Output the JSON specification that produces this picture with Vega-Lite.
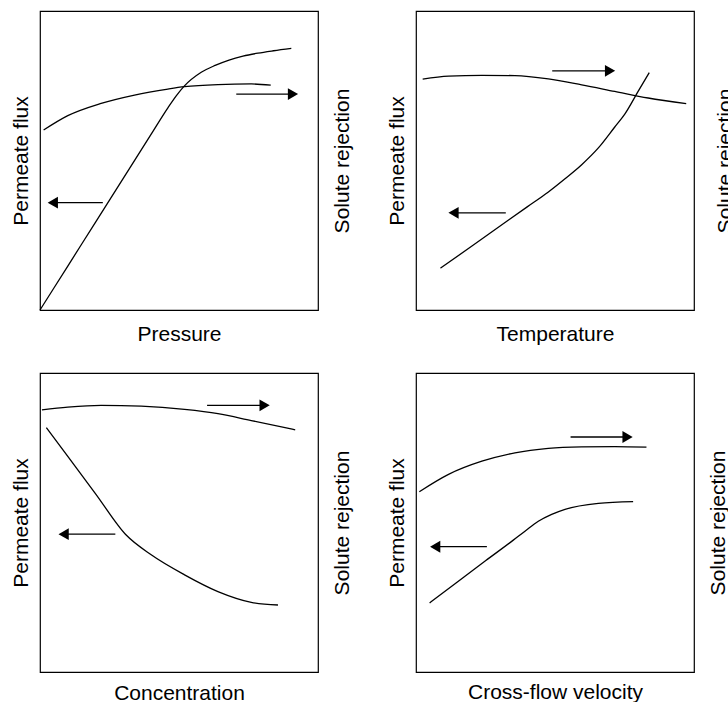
{
  "$schema": "https://vega.github.io/schema/vega-lite/v6.json",
  "padding": {"left": 9, "top": 10, "right": 0, "bottom": 0},
  "bounds": "flush",
  "columns": 2,
  "spacing": {"row": 63, "column": 98},
  "config": {
    "view": {"stroke": "black", "strokeWidth": 1.2},
    "font": "Liberation Sans",
    "axis": {"domain": false, "ticks": false, "labels": false, "grid": false, "titleFont": "Liberation Sans", "titleFontSize": 21, "titleFontWeight": "normal", "titleColor": "black"},
    "line": {"color": "black", "strokeWidth": 1.3}
  },
  "data": {"values": [
    {"panel": "P", "s": "flux", "x": 0, "y": 0},
    {"panel": "P", "s": "flux", "x": 0.1, "y": 0.147},
    {"panel": "P", "s": "flux", "x": 0.2, "y": 0.294},
    {"panel": "P", "s": "flux", "x": 0.3, "y": 0.441},
    {"panel": "P", "s": "flux", "x": 0.4, "y": 0.588},
    {"panel": "P", "s": "flux", "x": 0.46, "y": 0.676},
    {"panel": "P", "s": "flux", "x": 0.49, "y": 0.716},
    {"panel": "P", "s": "flux", "x": 0.517, "y": 0.747},
    {"panel": "P", "s": "flux", "x": 0.58, "y": 0.795},
    {"panel": "P", "s": "flux", "x": 0.63, "y": 0.818},
    {"panel": "P", "s": "flux", "x": 0.68, "y": 0.836},
    {"panel": "P", "s": "flux", "x": 0.73, "y": 0.849},
    {"panel": "P", "s": "flux", "x": 0.784, "y": 0.859},
    {"panel": "P", "s": "flux", "x": 0.84, "y": 0.867},
    {"panel": "P", "s": "flux", "x": 0.904, "y": 0.875},
    {"panel": "P", "s": "rej", "x": 0.013, "y": 0.602},
    {"panel": "P", "s": "rej", "x": 0.1, "y": 0.65},
    {"panel": "P", "s": "rej", "x": 0.22, "y": 0.691},
    {"panel": "P", "s": "rej", "x": 0.34, "y": 0.719},
    {"panel": "P", "s": "rej", "x": 0.46, "y": 0.739},
    {"panel": "P", "s": "rej", "x": 0.52, "y": 0.747},
    {"panel": "P", "s": "rej", "x": 0.64, "y": 0.754},
    {"panel": "P", "s": "rej", "x": 0.76, "y": 0.756},
    {"panel": "P", "s": "rej", "x": 0.83, "y": 0.752},
    {"panel": "P", "s": "a1", "x": 0.226, "y": 0.359},
    {"panel": "P", "s": "a1", "x": 0.046, "y": 0.359, "dir": "left"},
    {"panel": "P", "s": "a2", "x": 0.706, "y": 0.722},
    {"panel": "P", "s": "a2", "x": 0.91, "y": 0.722, "dir": "right"},

    {"panel": "T", "s": "flux", "x": 0.088, "y": 0.14},
    {"panel": "T", "s": "flux", "x": 0.2, "y": 0.213},
    {"panel": "T", "s": "flux", "x": 0.3, "y": 0.279},
    {"panel": "T", "s": "flux", "x": 0.4, "y": 0.345},
    {"panel": "T", "s": "flux", "x": 0.475, "y": 0.394},
    {"panel": "T", "s": "flux", "x": 0.536, "y": 0.439},
    {"panel": "T", "s": "flux", "x": 0.596, "y": 0.486},
    {"panel": "T", "s": "flux", "x": 0.656, "y": 0.542},
    {"panel": "T", "s": "flux", "x": 0.715, "y": 0.612},
    {"panel": "T", "s": "flux", "x": 0.751, "y": 0.655},
    {"panel": "T", "s": "flux", "x": 0.799, "y": 0.731},
    {"panel": "T", "s": "flux", "x": 0.839, "y": 0.794},
    {"panel": "T", "s": "rej", "x": 0.024, "y": 0.772},
    {"panel": "T", "s": "rej", "x": 0.117, "y": 0.782},
    {"panel": "T", "s": "rej", "x": 0.237, "y": 0.785},
    {"panel": "T", "s": "rej", "x": 0.356, "y": 0.784},
    {"panel": "T", "s": "rej", "x": 0.476, "y": 0.773},
    {"panel": "T", "s": "rej", "x": 0.596, "y": 0.753},
    {"panel": "T", "s": "rej", "x": 0.715, "y": 0.731},
    {"panel": "T", "s": "rej", "x": 0.835, "y": 0.709},
    {"panel": "T", "s": "rej", "x": 0.972, "y": 0.69},
    {"panel": "T", "s": "a1", "x": 0.323, "y": 0.325},
    {"panel": "T", "s": "a1", "x": 0.135, "y": 0.325, "dir": "left"},
    {"panel": "T", "s": "a2", "x": 0.49, "y": 0.8},
    {"panel": "T", "s": "a2", "x": 0.698, "y": 0.8, "dir": "right"},

    {"panel": "C", "s": "flux", "x": 0.023, "y": 0.817},
    {"panel": "C", "s": "flux", "x": 0.1, "y": 0.721},
    {"panel": "C", "s": "flux", "x": 0.2, "y": 0.596},
    {"panel": "C", "s": "flux", "x": 0.31, "y": 0.458},
    {"panel": "C", "s": "flux", "x": 0.4, "y": 0.392},
    {"panel": "C", "s": "flux", "x": 0.52, "y": 0.325},
    {"panel": "C", "s": "flux", "x": 0.64, "y": 0.269},
    {"panel": "C", "s": "flux", "x": 0.76, "y": 0.233},
    {"panel": "C", "s": "flux", "x": 0.856, "y": 0.224},
    {"panel": "C", "s": "rej", "x": 0.007, "y": 0.877},
    {"panel": "C", "s": "rej", "x": 0.1, "y": 0.886},
    {"panel": "C", "s": "rej", "x": 0.22, "y": 0.892},
    {"panel": "C", "s": "rej", "x": 0.364, "y": 0.889},
    {"panel": "C", "s": "rej", "x": 0.52, "y": 0.878},
    {"panel": "C", "s": "rej", "x": 0.64, "y": 0.864},
    {"panel": "C", "s": "rej", "x": 0.76, "y": 0.841},
    {"panel": "C", "s": "rej", "x": 0.918, "y": 0.81},
    {"panel": "C", "s": "a1", "x": 0.271, "y": 0.461},
    {"panel": "C", "s": "a1", "x": 0.085, "y": 0.461, "dir": "left"},
    {"panel": "C", "s": "a2", "x": 0.601, "y": 0.892},
    {"panel": "C", "s": "a2", "x": 0.808, "y": 0.892, "dir": "right"},

    {"panel": "V", "s": "flux", "x": 0.049, "y": 0.231},
    {"panel": "V", "s": "flux", "x": 0.15, "y": 0.302},
    {"panel": "V", "s": "flux", "x": 0.25, "y": 0.372},
    {"panel": "V", "s": "flux", "x": 0.35, "y": 0.441},
    {"panel": "V", "s": "flux", "x": 0.392, "y": 0.471},
    {"panel": "V", "s": "flux", "x": 0.44, "y": 0.504},
    {"panel": "V", "s": "flux", "x": 0.488, "y": 0.527},
    {"panel": "V", "s": "flux", "x": 0.536, "y": 0.544},
    {"panel": "V", "s": "flux", "x": 0.656, "y": 0.564},
    {"panel": "V", "s": "flux", "x": 0.781, "y": 0.57},
    {"panel": "V", "s": "rej", "x": 0.012, "y": 0.603},
    {"panel": "V", "s": "rej", "x": 0.117, "y": 0.661},
    {"panel": "V", "s": "rej", "x": 0.237, "y": 0.705},
    {"panel": "V", "s": "rej", "x": 0.356, "y": 0.733},
    {"panel": "V", "s": "rej", "x": 0.476, "y": 0.748},
    {"panel": "V", "s": "rej", "x": 0.596, "y": 0.753},
    {"panel": "V", "s": "rej", "x": 0.715, "y": 0.754},
    {"panel": "V", "s": "rej", "x": 0.829, "y": 0.752},
    {"panel": "V", "s": "a1", "x": 0.255, "y": 0.419},
    {"panel": "V", "s": "a1", "x": 0.069, "y": 0.419, "dir": "left"},
    {"panel": "V", "s": "a2", "x": 0.556, "y": 0.786},
    {"panel": "V", "s": "a2", "x": 0.761, "y": 0.786, "dir": "right"}
  ]},
  "concat": [
    {
      "width": 278, "height": 299,
      "transform": [{"filter": {"field": "panel", "equal": "P"}}],
      "encoding": {"x": {"field": "x", "type": "quantitative", "scale": {"domain": [0, 1]}, "axis": {"title": "Pressure", "titlePadding": 13}}},
      "layer": [
        {"transform": [{"filter": {"field": "s", "equal": "flux"}}], "mark": {"type": "line", "interpolate": "monotone"},
         "encoding": {"y": {"field": "y", "type": "quantitative", "scale": {"domain": [0, 1]}, "axis": {"title": "Permeate flux", "titlePadding": 9}}}},
        {"transform": [{"filter": {"field": "s", "equal": "rej"}}], "mark": {"type": "line", "interpolate": "monotone"},
         "encoding": {"y": {"field": "y", "type": "quantitative", "scale": {"domain": [0, 1]}, "axis": {"orient": "right", "title": "Solute rejection", "titleAngle": -90, "titleBaseline": "top", "titlePadding": 13}}}},
        {"transform": [{"filter": {"field": "s", "oneOf": ["a1", "a2"]}}], "mark": "line",
         "encoding": {"y": {"field": "y", "type": "quantitative", "scale": {"domain": [0, 1]}, "axis": null}, "detail": {"field": "s"}}},
        {"transform": [{"filter": "isValid(datum.dir)"}], "mark": {"type": "point", "filled": true, "size": 140, "opacity": 1, "color": "black"},
         "encoding": {"y": {"field": "y", "type": "quantitative", "scale": {"domain": [0, 1]}, "axis": null},
                      "shape": {"field": "dir", "type": "nominal", "scale": {"domain": ["left", "right"], "range": ["triangle-left", "triangle-right"]}, "legend": null}}}
      ],
      "resolve": {"scale": {"y": "independent"}}
    },
    {
      "width": 278, "height": 299,
      "transform": [{"filter": {"field": "panel", "equal": "T"}}],
      "encoding": {"x": {"field": "x", "type": "quantitative", "scale": {"domain": [0, 1]}, "axis": {"title": "Temperature", "titlePadding": 13}}},
      "layer": [
        {"transform": [{"filter": {"field": "s", "equal": "flux"}}], "mark": {"type": "line", "interpolate": "monotone"},
         "encoding": {"y": {"field": "y", "type": "quantitative", "scale": {"domain": [0, 1]}, "axis": {"title": "Permeate flux", "titlePadding": 9}}}},
        {"transform": [{"filter": {"field": "s", "equal": "rej"}}], "mark": {"type": "line", "interpolate": "monotone"},
         "encoding": {"y": {"field": "y", "type": "quantitative", "scale": {"domain": [0, 1]}, "axis": {"orient": "right", "title": "Solute rejection", "titleAngle": -90, "titleBaseline": "top", "titlePadding": 20}}}},
        {"transform": [{"filter": {"field": "s", "oneOf": ["a1", "a2"]}}], "mark": "line",
         "encoding": {"y": {"field": "y", "type": "quantitative", "scale": {"domain": [0, 1]}, "axis": null}, "detail": {"field": "s"}}},
        {"transform": [{"filter": "isValid(datum.dir)"}], "mark": {"type": "point", "filled": true, "size": 140, "opacity": 1, "color": "black"},
         "encoding": {"y": {"field": "y", "type": "quantitative", "scale": {"domain": [0, 1]}, "axis": null},
                      "shape": {"field": "dir", "type": "nominal", "scale": {"domain": ["left", "right"], "range": ["triangle-left", "triangle-right"]}, "legend": null}}}
      ],
      "resolve": {"scale": {"y": "independent"}}
    },
    {
      "width": 278, "height": 299,
      "transform": [{"filter": {"field": "panel", "equal": "C"}}],
      "encoding": {"x": {"field": "x", "type": "quantitative", "scale": {"domain": [0, 1]}, "axis": {"title": "Concentration", "titlePadding": 10}}},
      "layer": [
        {"transform": [{"filter": {"field": "s", "equal": "flux"}}], "mark": {"type": "line", "interpolate": "monotone"},
         "encoding": {"y": {"field": "y", "type": "quantitative", "scale": {"domain": [0, 1]}, "axis": {"title": "Permeate flux", "titlePadding": 9}}}},
        {"transform": [{"filter": {"field": "s", "equal": "rej"}}], "mark": {"type": "line", "interpolate": "monotone"},
         "encoding": {"y": {"field": "y", "type": "quantitative", "scale": {"domain": [0, 1]}, "axis": {"orient": "right", "title": "Solute rejection", "titleAngle": -90, "titleBaseline": "top", "titlePadding": 13}}}},
        {"transform": [{"filter": {"field": "s", "oneOf": ["a1", "a2"]}}], "mark": "line",
         "encoding": {"y": {"field": "y", "type": "quantitative", "scale": {"domain": [0, 1]}, "axis": null}, "detail": {"field": "s"}}},
        {"transform": [{"filter": "isValid(datum.dir)"}], "mark": {"type": "point", "filled": true, "size": 140, "opacity": 1, "color": "black"},
         "encoding": {"y": {"field": "y", "type": "quantitative", "scale": {"domain": [0, 1]}, "axis": null},
                      "shape": {"field": "dir", "type": "nominal", "scale": {"domain": ["left", "right"], "range": ["triangle-left", "triangle-right"]}, "legend": null}}}
      ],
      "resolve": {"scale": {"y": "independent"}}
    },
    {
      "width": 278, "height": 299,
      "transform": [{"filter": {"field": "panel", "equal": "V"}}],
      "encoding": {"x": {"field": "x", "type": "quantitative", "scale": {"domain": [0, 1]}, "axis": {"title": "Cross-flow velocity", "titlePadding": 9}}},
      "layer": [
        {"transform": [{"filter": {"field": "s", "equal": "flux"}}], "mark": {"type": "line", "interpolate": "monotone"},
         "encoding": {"y": {"field": "y", "type": "quantitative", "scale": {"domain": [0, 1]}, "axis": {"title": "Permeate flux", "titlePadding": 9}}}},
        {"transform": [{"filter": {"field": "s", "equal": "rej"}}], "mark": {"type": "line", "interpolate": "monotone"},
         "encoding": {"y": {"field": "y", "type": "quantitative", "scale": {"domain": [0, 1]}, "axis": {"orient": "right", "title": "Solute rejection", "titleAngle": -90, "titleBaseline": "top", "titlePadding": 13}}}},
        {"transform": [{"filter": {"field": "s", "oneOf": ["a1", "a2"]}}], "mark": "line",
         "encoding": {"y": {"field": "y", "type": "quantitative", "scale": {"domain": [0, 1]}, "axis": null}, "detail": {"field": "s"}}},
        {"transform": [{"filter": "isValid(datum.dir)"}], "mark": {"type": "point", "filled": true, "size": 140, "opacity": 1, "color": "black"},
         "encoding": {"y": {"field": "y", "type": "quantitative", "scale": {"domain": [0, 1]}, "axis": null},
                      "shape": {"field": "dir", "type": "nominal", "scale": {"domain": ["left", "right"], "range": ["triangle-left", "triangle-right"]}, "legend": null}}}
      ],
      "resolve": {"scale": {"y": "independent"}}
    }
  ]
}
